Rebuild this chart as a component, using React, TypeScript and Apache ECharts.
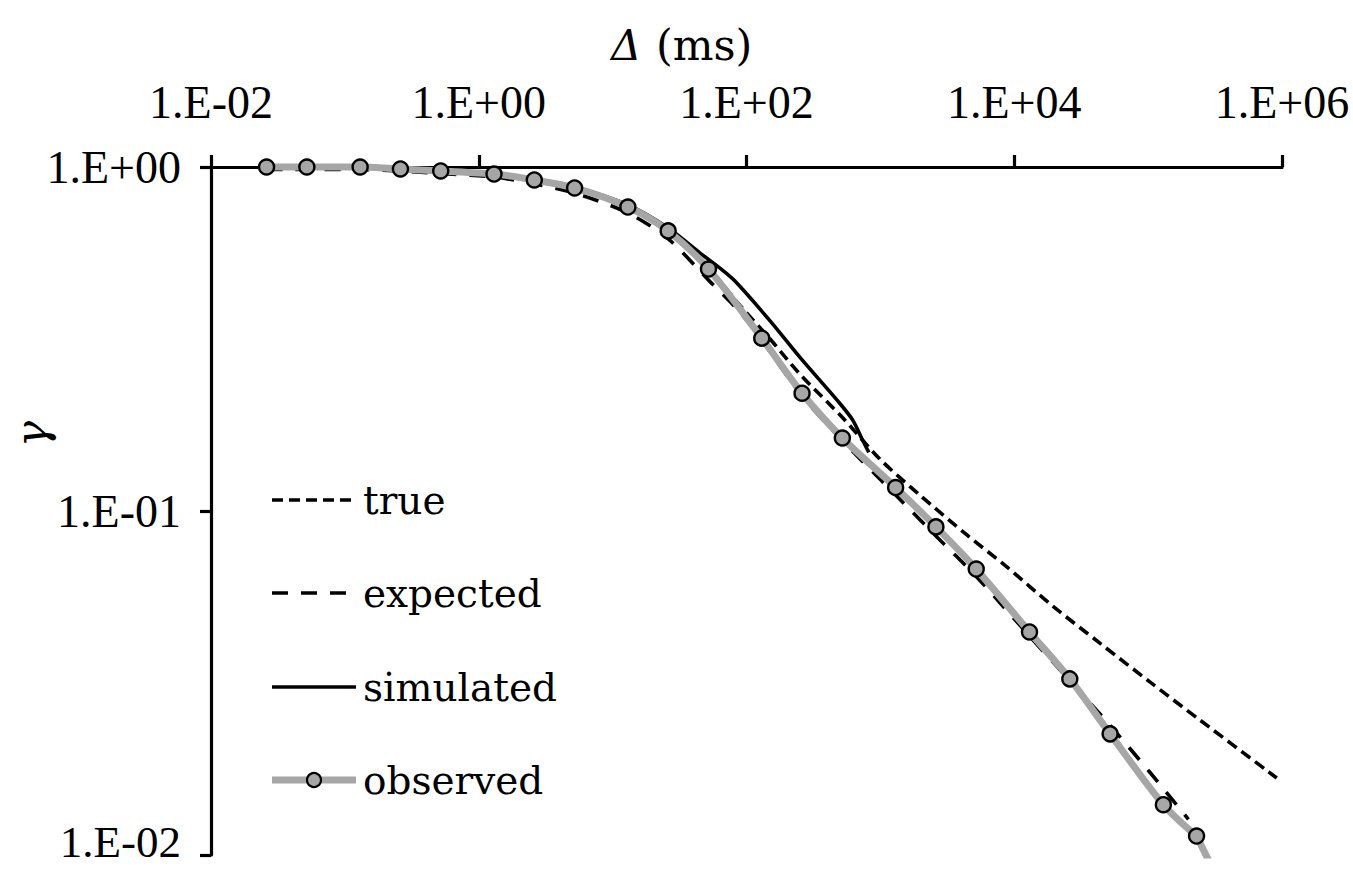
import { useEffect, useRef } from "react";
import * as echarts from "echarts";

// Series names, in legend order
const seriesNames = ["true", "expected", "simulated", "observed"];

// Axis ticks: Δ (ms) every two decades, γ every decade
const deltaTicks = [0.01, 1, 100, 10000, 1000000];
const gammaTicks = [0.01, 0.1, 1];

// observed γ(Δ) with markers
const observedDelta = [
  0.026, 0.052, 0.13, 0.26, 0.52, 1.3, 2.6, 5.2, 13, 26, 52, 130, 260, 520, 1300, 2600, 5200, 13000,
  26000, 52000, 130000, 230000,
];
const observedGamma = [
  1.0, 1.0, 1.0, 0.987, 0.974, 0.954, 0.917, 0.869, 0.765, 0.652, 0.505, 0.318, 0.22, 0.163, 0.117,
  0.0899, 0.0678, 0.0445, 0.0325, 0.0225, 0.014, 0.01135,
];
// continuation of the observed curve below the lower γ limit
const observedTailDelta = [230000, 520000];
const observedTailGamma = [0.01135, 0.006];

// expected γ(Δ)
const expectedDelta = [
  0.026, 0.13, 0.52, 1.3, 2.6, 5.2, 13, 26, 52, 90, 130, 260, 530, 990, 2600, 5200, 13000, 26000, 52000,
  103000, 200000,
];
const expectedGamma = [
  0.983, 0.983, 0.957, 0.935, 0.893, 0.84, 0.735, 0.618, 0.469, 0.377, 0.314, 0.216, 0.159, 0.124, 0.0846,
  0.0645, 0.0433, 0.0321, 0.0238, 0.0174, 0.0127,
];

// simulated γ(Δ)
const simulatedDelta = [0.026, 0.13, 0.52, 1.3, 2.6, 5.2, 13, 26, 45, 63, 82, 150, 250, 475, 620, 740, 820];
const simulatedGamma = [
  1.0, 1.0, 0.98, 0.954, 0.923, 0.875, 0.776, 0.665, 0.562, 0.509, 0.466, 0.357, 0.28, 0.21, 0.184, 0.16,
  0.148,
];

// true γ(Δ)
const trueDelta = [
  0.026, 0.13, 0.52, 1.3, 5.2, 13, 26, 52, 90, 150, 250, 525, 990, 1970, 4430, 8800, 19400, 43600, 103000,
  243000, 914000,
];
const trueGamma = [
  1.0, 1.0, 0.976, 0.955, 0.872, 0.768, 0.655, 0.508, 0.3945, 0.3162, 0.2502, 0.1864, 0.1416, 0.1113,
  0.0852, 0.0688, 0.0529, 0.0413, 0.03185, 0.0247, 0.01674,
];

const BLACK = "#000000";
const GREY = "#a6a6a6";
const TICK_FONT = "Liberation Serif";
const TEXT_FONT = "DejaVu Serif";

const TRUE_DASH = [11, 6];
const EXPECTED_DASH = [16, 13];
const LINE_W = 3.6;

function sciLabel(v: number): string {
  const e = Math.round(Math.log10(v));
  const sign = e < 0 ? "-" : "+";
  return `1.E${sign}${String(Math.abs(e)).padStart(2, "0")}`;
}

function pairs(xs: number[], ys: number[]): number[][] {
  return xs.map((x, i) => [x, ys[i]]);
}

function legendRow(
  name: string,
  cy: number,
  line: { stroke: string; width: number; dash?: number[] },
  marker: boolean
): any[] {
  const items: any[] = [
    {
      type: "line",
      shape: { x1: 272, y1: cy, x2: 356, y2: cy },
      style: { stroke: line.stroke, lineWidth: line.width, lineDash: line.dash || null },
      z: 10,
    },
  ];
  if (marker) {
    items.push({
      type: "circle",
      shape: { cx: 314, cy, r: 7 },
      style: { fill: GREY, stroke: BLACK, lineWidth: 2.2 },
      z: 11,
    });
  }
  items.push({
    type: "text",
    x: 363,
    y: cy,
    style: {
      text: name,
      font: `39px "${TEXT_FONT}"`,
      fill: BLACK,
      align: "left",
      verticalAlign: "middle",
      textAlign: "left",
      textVerticalAlign: "middle",
    },
    z: 10,
  });
  return items;
}

export default function App() {
  const ref = useRef<HTMLDivElement>(null);

  useEffect(() => {
    if (!ref.current) return;
    const chart = echarts.init(ref.current, null, { renderer: "svg" });

    const axisLineStyle = { color: BLACK, width: 3.2 };

    const option: any = {
      animation: false,
      backgroundColor: "#ffffff",
      grid: {
        left: 211,
        right: 71,
        top: 167,
        bottom: 15,
        containLabel: false,
        outerBoundsMode: "none",
      },
      xAxis: {
        type: "log",
        logBase: 10,
        position: "top",
        min: deltaTicks[0],
        max: deltaTicks[deltaTicks.length - 1],
        interval: 2,
        axisLine: { show: true, lineStyle: axisLineStyle },
        axisTick: { show: true, inside: false, length: 12, lineStyle: { color: BLACK, width: 3.2 } },
        axisLabel: {
          show: true,
          margin: 42,
          formatter: (v: number) => sciLabel(v),
          fontFamily: TICK_FONT,
          fontSize: 46,
          color: BLACK,
        },
        splitLine: { show: false },
        minorTick: { show: false },
      },
      yAxis: {
        type: "log",
        logBase: 10,
        min: gammaTicks[0],
        max: gammaTicks[gammaTicks.length - 1],
        axisLine: { show: true, lineStyle: axisLineStyle },
        axisTick: { show: true, inside: false, length: 11, lineStyle: { color: BLACK, width: 3.2 } },
        axisLabel: {
          show: true,
          margin: 30,
          // the lowest label sits at the bottom edge, lift it so it stays inside
          formatter: (v: number) => (v <= gammaTicks[0] * 1.01 ? `{low|${sciLabel(v)}}` : sciLabel(v)),
          fontFamily: TICK_FONT,
          fontSize: 46,
          color: BLACK,
          rich: {
            low: {
              fontFamily: TICK_FONT,
              fontSize: 45,
              color: BLACK,
              padding: [0, 0, 26, 0],
            },
          },
        },
        splitLine: { show: false },
      },
      series: [
        {
          name: seriesNames[0],
          type: "line",
          data: pairs(trueDelta, trueGamma),
          smooth: 0.3,
          showSymbol: false,
          symbol: "none",
          clip: false,
          z: 2,
          lineStyle: { color: BLACK, width: LINE_W, type: TRUE_DASH },
          emphasis: { disabled: true },
        },
        {
          name: seriesNames[1],
          type: "line",
          data: pairs(expectedDelta, expectedGamma),
          smooth: 0.3,
          showSymbol: false,
          symbol: "none",
          clip: false,
          z: 3,
          lineStyle: { color: BLACK, width: LINE_W, type: EXPECTED_DASH },
          emphasis: { disabled: true },
        },
        {
          name: seriesNames[2],
          type: "line",
          data: pairs(simulatedDelta, simulatedGamma),
          smooth: 0.3,
          showSymbol: false,
          symbol: "none",
          clip: false,
          z: 4,
          lineStyle: { color: BLACK, width: LINE_W },
          emphasis: { disabled: true },
        },
        {
          name: seriesNames[3] + "-tail",
          type: "line",
          data: pairs(observedTailDelta, observedTailGamma),
          showSymbol: false,
          symbol: "none",
          clip: true,
          z: 5,
          lineStyle: { color: GREY, width: 7 },
          emphasis: { disabled: true },
        },
        {
          name: seriesNames[3],
          type: "line",
          data: pairs(observedDelta, observedGamma),
          smooth: 0.3,
          symbol: "circle",
          symbolSize: 15,
          showSymbol: true,
          clip: false,
          z: 6,
          lineStyle: { color: GREY, width: 7 },
          itemStyle: { color: GREY, borderColor: BLACK, borderWidth: 2.4 },
          emphasis: { disabled: true },
        },
      ],
      graphic: [
        // axis titles
        {
          type: "text",
          x: 611,
          y: 45,
          style: {
            text: "Δ",
            font: `italic 42px "${TEXT_FONT}"`,
            fill: BLACK,
            align: "left",
            verticalAlign: "middle",
            textAlign: "left",
            textVerticalAlign: "middle",
          },
        },
        {
          type: "text",
          x: 656,
          y: 45,
          style: {
            text: "(ms)",
            font: `43px "${TEXT_FONT}"`,
            fill: BLACK,
            align: "left",
            verticalAlign: "middle",
            textAlign: "left",
            textVerticalAlign: "middle",
          },
        },
        {
          type: "text",
          x: 31,
          y: 434,
          rotation: Math.PI / 2,
          style: {
            text: "γ",
            font: `italic 44px "${TEXT_FONT}"`,
            fill: BLACK,
            align: "center",
            verticalAlign: "middle",
            textAlign: "center",
            textVerticalAlign: "middle",
          },
        },
        // legend
        ...legendRow(seriesNames[0], 500, { stroke: BLACK, width: LINE_W, dash: TRUE_DASH }, false),
        ...legendRow(seriesNames[1], 593, { stroke: BLACK, width: LINE_W, dash: EXPECTED_DASH }, false),
        ...legendRow(seriesNames[2], 687, { stroke: BLACK, width: LINE_W }, false),
        ...legendRow(seriesNames[3], 780, { stroke: GREY, width: 7 }, true),
      ],
    };

    chart.setOption(option);
    return () => chart.dispose();
  }, []);

  return (
    <div
      ref={ref}
      style={{ position: "fixed", left: 0, top: 0, width: 1353, height: 870, background: "#ffffff" }}
    />
  );
}
